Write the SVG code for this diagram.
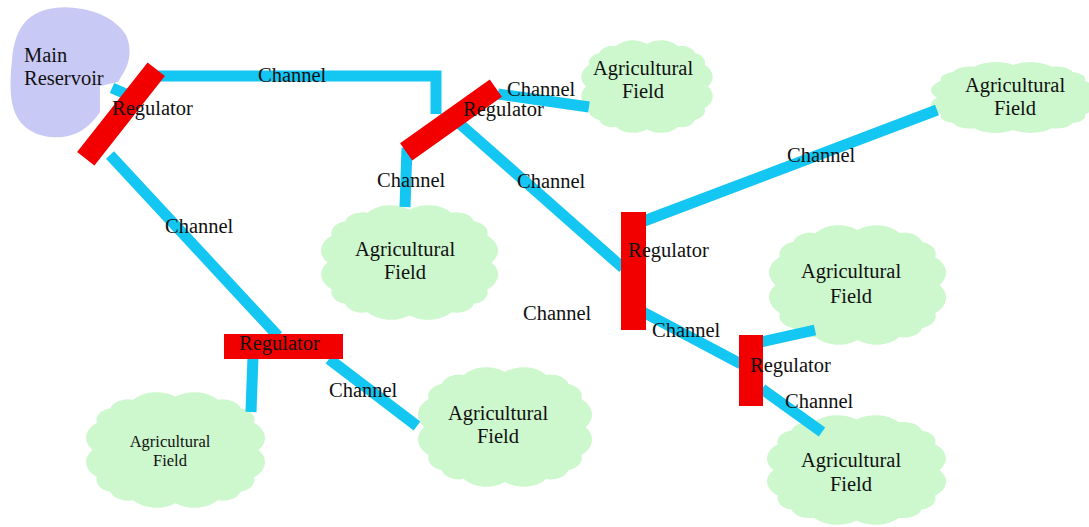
<svg xmlns="http://www.w3.org/2000/svg" width="1089" height="527" viewBox="0 0 1089 527" font-family="'Liberation Serif', 'Times New Roman', serif">
<style>
.ch{stroke:#14c6f2;stroke-width:11;fill:none;stroke-linecap:butt;stroke-linejoin:miter}
.reg{fill:#f20000}
.fld{fill:#cdf7cd}
.res{fill:#c9c9f5}
text{font-family:'Liberation Serif','Times New Roman',serif;font-size:20.5px;fill:#111}
.m{text-anchor:middle}
.s{font-size:16.5px}
</style>
<defs>
<path id="cloud" d="M95,50 A16,16 0 0,1 92.6,72.5 A10,10 0 0,1 85.3,84.5 A10,10 0 0,1 73,91.6 A16,16 0 0,1 50,94 A16,16 0 0,1 27,91.6 A10,10 0 0,1 14.7,84.5 A10,10 0 0,1 7.4,72.5 A16,16 0 0,1 5,50 A16,16 0 0,1 7.4,27.5 A10,10 0 0,1 14.7,15.5 A10,10 0 0,1 27,8.4 A16,16 0 0,1 50,6 A16,16 0 0,1 73,8.4 A10,10 0 0,1 85.3,15.5 A10,10 0 0,1 92.6,27.5 A16,16 0 0,1 95,50 Z"/>
</defs>
<rect width="1089" height="527" fill="#ffffff"/>

<g id="main-reservoir">
<path class="res" d="M27,20 C40,8 60,6 75,8 C95,10 115,18 126,35 C132,48 130,62 124,72 L118,82 L100,86 L100,112 C92,124 80,135 63,137 C45,139 25,133 16,115 C9,100 10,80 12,60 C13,45 17,30 27,20 Z"/>
<text x="24" y="62">Main</text>
<text x="24" y="85">Reservoir</text>
</g>

<g id="field-a">
<use href="#cloud" class="fld" transform="translate(579.3,38.1) scale(1.354,0.969)"/>
<text class="m" x="643" y="75">Agricultural</text>
<text class="m" x="643" y="98">Field</text>
</g>
<g id="field-b">
<use href="#cloud" class="fld" transform="translate(318.4,202.6) scale(1.823,1.198)"/>
<text class="m" x="405" y="256">Agricultural</text>
<text class="m" x="405" y="279">Field</text>
</g>
<g id="field-c">
<use href="#cloud" class="fld" transform="translate(928.6,60.5) scale(1.6875,0.74)"/>
<text class="m" x="1015" y="92">Agricultural</text>
<text class="m" x="1015" y="115">Field</text>
</g>
<g id="field-d">
<use href="#cloud" class="fld" transform="translate(766.4,222.5) scale(1.823,1.25)"/>
<text class="m" x="851" y="278">Agricultural</text>
<text class="m" x="851" y="303">Field</text>
</g>
<g id="field-e">
<use href="#cloud" class="fld" transform="translate(764.3,412.7) scale(1.844,1.146)"/>
<text class="m" x="851" y="467">Agricultural</text>
<text class="m" x="851" y="491">Field</text>
</g>
<g id="field-f">
<use href="#cloud" class="fld" transform="translate(83.3,389.6) scale(1.844,1.208)"/>
<text class="m s" x="170" y="447">Agricultural</text>
<text class="m s" x="170" y="466">Field</text>
</g>
<g id="field-g">
<use href="#cloud" class="fld" transform="translate(415.4,364.5) scale(1.792,1.25)"/>
<text class="m" x="498" y="420">Agricultural</text>
<text class="m" x="498" y="443">Field</text>
</g>

<g id="connectors">
<line class="ch" x1="112" y1="88" x2="126" y2="94"/>
<polyline class="ch" points="158,76 436,76 436,114"/>
<line class="ch" x1="110" y1="155" x2="278" y2="336"/>
<line class="ch" x1="498" y1="94" x2="589" y2="107"/>
<line class="ch" x1="407" y1="148" x2="405" y2="207"/>
<line class="ch" x1="460" y1="124" x2="623" y2="268"/>
<line class="ch" x1="644" y1="221" x2="937" y2="110"/>
<line class="ch" x1="643" y1="312" x2="741" y2="364"/>
<line class="ch" x1="761" y1="342" x2="815" y2="330"/>
<line class="ch" x1="762" y1="389" x2="822" y2="432"/>
<line class="ch" x1="253" y1="356" x2="251" y2="412"/>
<line class="ch" x1="329" y1="359" x2="417" y2="426"/>
<text x="258" y="82">Channel</text>
<text x="507" y="96">Channel</text>
<text x="377" y="187">Channel</text>
<text x="517" y="188">Channel</text>
<text x="165" y="233">Channel</text>
<text x="787" y="162">Channel</text>
<text x="523" y="320">Channel</text>
<text x="652" y="337">Channel</text>
<text x="785" y="408">Channel</text>
<text x="329" y="397">Channel</text>
</g>

<g id="regulator-1">
<rect class="reg" x="-57" y="-11" width="114" height="22" transform="translate(121,114) rotate(-51.8)"/>
<text x="112" y="115">Regulator</text>
</g>
<g id="regulator-2">
<rect class="reg" x="-55" y="-10.5" width="110" height="21" transform="translate(451,120) rotate(-35.4)"/>
<text x="463" y="116">Regulator</text>
</g>
<g id="regulator-3">
<rect class="reg" x="621" y="212" width="25" height="118"/>
<text x="628" y="257">Regulator</text>
</g>
<g id="regulator-4">
<rect class="reg" x="739" y="335" width="24" height="71"/>
<text x="750" y="372">Regulator</text>
</g>
<g id="regulator-5">
<rect class="reg" x="224" y="334" width="119" height="25"/>
<text x="239" y="350">Regulator</text>
</g>
</svg>
